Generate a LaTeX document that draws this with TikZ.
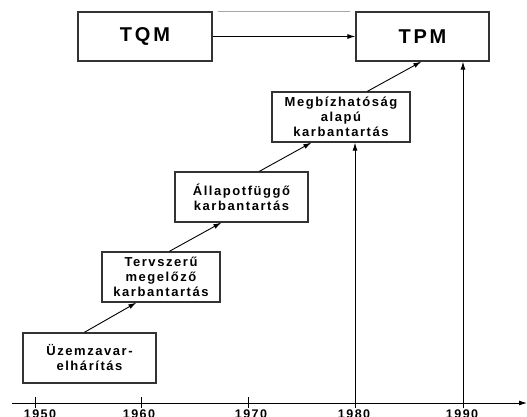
\documentclass[tikz,border=0pt]{standalone}
\usepackage{fontspec}
\newfontfamily\lblfont[LetterSpace=12]{Liberation Sans}
\newfontfamily\bigfont[LetterSpace=14]{Liberation Sans}
\usetikzlibrary{arrows.meta,calc}
\begin{document}
\begin{tikzpicture}[x=1pt,y=-1pt,
  box/.style={draw=black!80,line width=1.3pt,fill=white,inner sep=0pt,minimum height=50pt,align=center,
    font=\lblfont\bfseries\fontsize{13}{15}\selectfont},
  topbox/.style={box,minimum height=49pt,font=\bigfont\bfseries\fontsize{20}{22}\selectfont},
  arr/.style={line width=0.9pt,-{Latex[length=8pt,width=5pt]}},
  yr/.style={font=\lblfont\bfseries\fontsize{12.5}{14}\selectfont,anchor=base,inner sep=0pt},
  tick/.style={line width=0.9pt}]
\useasboundingbox (0,0) rectangle (527,417);
% boxes
\node[topbox,minimum width=134pt] (tqm) at (145,36.5) {TQM};
\node[topbox,minimum width=133pt] (tpm) at (422.5,36.5) {TPM};
\node[box,minimum width=138pt] (megb) at (341,117) {Megbízhatóság\\alapú\\karbantartás};
\node[box,minimum width=133pt] (allap) at (241.5,197) {Állapotfüggő\\karbantartás};
\node[box,minimum width=118pt] (terv) at (161,277) {Tervszerű\\megelőző\\karbantartás};
\node[box,minimum width=133pt] (uzem) at (89.5,358) {Üzemzavar-\\elhárítás};
% faint top line
\draw[black!35,line width=0.8pt] ($(tqm.north east)+(5,0)$) -- ($(tpm.north west)+(-5,0)$);
% TQM -> TPM
\draw[arr] (tqm.east) -- (tpm.west);
% diagonal chain
\draw[arr] ($(uzem.north west)+(62,0)$) -- ($(terv.south west)+(35,0)$);
\draw[arr] ($(terv.north west)+(68,0)$) -- ($(allap.south west)+(47,0)$);
\draw[arr] ($(allap.north west)+(85,0)$) -- ($(megb.south west)+(40,0)$);
\draw[arr] ($(megb.north west)+(96,0)$) -- ($(tpm.south west)+(66,0)$);
% axis
\coordinate (ax0) at (12,403);
\coordinate (ax1) at (527,403);
\draw[line width=0.9pt,-{Latex[length=8pt,width=5pt]}] (ax0) -- (ax1);
% ticks and years
\coordinate (t50) at (35,408);
\coordinate (t60) at (141,408);
\coordinate (t70) at (248,408);
\coordinate (t80) at (355,408);
\coordinate (t90) at (463,408);
\draw[tick] (t50) -- ++(0,-11);
\draw[tick] (t60) -- ++(0,-11);
\draw[tick] (t70) -- ++(0,-11);
\draw[arr] (t80) -- (t80 |- megb.south);
\draw[arr] (t90) -- (t90 |- tpm.south);
\node[yr] (y50) at (40,418) {1950};
\node[yr] (y60) at (139,418) {1960};
\node[yr] (y70) at (251,418) {1970};
\node[yr] (y80) at (354,418) {1980};
\node[yr] (y90) at (462,418) {1990};
\end{tikzpicture}
\end{document}
